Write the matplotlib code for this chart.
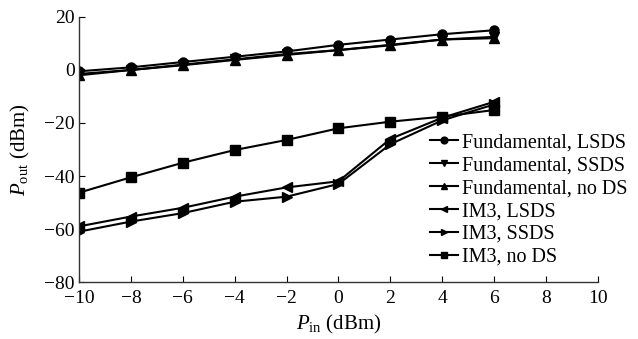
import matplotlib
matplotlib.use('Agg')
import matplotlib.pyplot as plt

plt.rcParams.update({
    'font.family': 'Liberation Serif',
    'mathtext.fontset': 'custom',
    'mathtext.rm': 'Liberation Serif',
    'mathtext.it': 'Liberation Serif:italic',
    'font.size': 14,
})

p_in = [-10, -8, -6, -4, -2, 0, 2, 4, 6]

fund_lsds = [-0.5, 1.0, 3.0, 5.0, 7.0, 9.5, 11.5, 13.5, 15.0]
fund_ssds = [-1.5, 0.0, 2.0, 4.0, 6.0, 7.5, 9.5, 11.5, 12.5]
fund_nods = [-2.0, 0.0, 1.8, 3.8, 5.7, 7.5, 9.3, 11.5, 12.0]
im3_lsds = [-59.0, -55.3, -52.0, -47.8, -44.3, -42.0, -26.0, -18.0, -12.0]
im3_ssds = [-61.0, -57.2, -54.0, -49.7, -47.8, -43.0, -28.0, -19.0, -13.0]
im3_nods = [-46.3, -40.5, -35.0, -30.2, -26.4, -22.0, -19.5, -17.6, -15.1]

series = [
    (fund_lsds, 'o', 'Fundamental, LSDS'),
    (fund_ssds, 'v', 'Fundamental, SSDS'),
    (fund_nods, '^', 'Fundamental, no DS'),
    (im3_lsds, '<', 'IM3, LSDS'),
    (im3_ssds, '>', 'IM3, SSDS'),
    (im3_nods, 's', 'IM3, no DS'),
]

fig = plt.figure(figsize=(6.38, 3.39), dpi=100)
ax = fig.add_axes([0.1238, 0.1681, 0.8135, 0.7818])

for vals, mk, lab in series:
    ax.plot(p_in, vals, color='black', lw=1.5, marker=mk, ms=6.5, label=lab)

ax.set_xlim(-10, 10)
ax.set_ylim(-80, 20)
xt = list(range(-10, 11, 2))
yt = list(range(-80, 21, 20))
ax.set_xticks(xt)
ax.set_yticks(yt)
ax.set_xticklabels([str(t).replace('-', '\u2212') for t in xt])
ax.set_yticklabels([str(t).replace('-', '\u2212') for t in yt])
ax.tick_params(direction='in', length=4, width=0.8, labelsize=14)
ax.tick_params(axis='x', pad=6)
ax.tick_params(axis='y', pad=3)

for side in ('top', 'right'):
    ax.spines[side].set_visible(False)
for side in ('left', 'bottom'):
    ax.spines[side].set_color('#333333')
    ax.spines[side].set_linewidth(1.0)

ax.set_xlabel(r'$P_{\rm in}$ (dBm)', fontsize=15, labelpad=4)
ax.set_ylabel(r'$P_{\rm out}$ (dBm)', fontsize=15, labelpad=9)

fig.legend(loc='upper left', bbox_to_anchor=(0.674, 0.607), frameon=False,
           fontsize=14.5, handlelength=1.4, handletextpad=0.2,
           labelspacing=0.19, borderpad=0, borderaxespad=0, markerscale=0.75)

fig.savefig('out.png', dpi=100)
